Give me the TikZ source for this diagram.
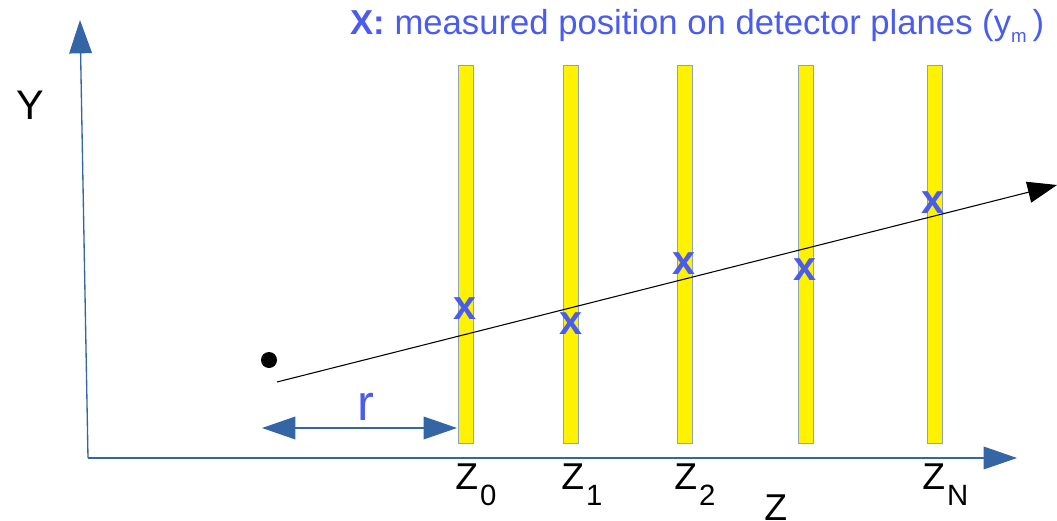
\documentclass[tikz,border=0pt]{standalone}
\usepackage{fontspec}
\setmainfont{Liberation Sans}
\usetikzlibrary{arrows.meta}
\definecolor{axisblue}{HTML}{3465A4}
\definecolor{markblue}{HTML}{4A5CF0}
\definecolor{planeedge}{HTML}{8DA3B8}
\begin{document}
\begin{tikzpicture}[x=0.75pt,y=-0.75pt,
  axis/.style={draw=axisblue, line width=1pt, -{Triangle[length=25pt,width=17pt]}},
  rarrow/.style={draw=axisblue, line width=1pt, {Triangle[length=25pt,width=17pt]}-{Triangle[length=25pt,width=17pt]}},
  track/.style={draw=black, line width=0.8pt, -{Triangle[length=22pt,width=16pt]}},
  plane/.style={draw=planeedge, fill=yellow, line width=1pt, inner sep=0pt, minimum width=11.25pt, minimum height=283.5pt, anchor=north west},
  xmark/.style={text=markblue, inner sep=0pt, font=\fontsize{31}{31}\selectfont\bfseries},
  zlab/.style={inner sep=0pt, anchor=base west, font=\fontsize{28}{28}\selectfont},
]
\useasboundingbox (0,0) rectangle (1057,521);
\newcommand{\zsub}[1]{\kern1.5pt\raisebox{-12pt}{\fontsize{22}{22}\selectfont #1}}
% title
\node[anchor=base west, inner sep=0pt, text=markblue, font=\fontsize{26}{26}\selectfont] (title) at (350,34)
  {\textbf{X:} measured position on detector planes (y\raisebox{-6pt}{\fontsize{14}{14}\selectfont m}\,)};
% axes
\coordinate (O) at (88,458);
\coordinate (ytip) at (80,20);
\coordinate (ztip) at (1017,458);
\draw[axis] (O) -- (ytip);
\draw[axis] (O) -- (ztip);
\node[anchor=base west, inner sep=0pt, font=\fontsize{31}{31}\selectfont] (ylab) at (16,119) {Y};
\node[zlab] (zaxis) at (764,520) {Z};
% planes
\node[plane] (p0) at (458,65) {};
\node[plane] (p1) at (563,65) {};
\node[plane] (p2) at (677,65) {};
\node[plane] (p3) at (798,65) {};
\node[plane] (pN) at (927,65) {};
% plane labels
\node[zlab] (z0) at (455,489) {Z\zsub{0}};
\node[zlab] (z1) at (561,489) {Z\zsub{1}};
\node[zlab] (z2) at (674,489) {Z\zsub{2}};
\node[zlab] (zN) at (922,489) {Z\zsub{N}};
% particle
\node[circle, fill=black, inner sep=0pt, minimum size=12pt] (dot) at (269,360) {};
\coordinate (tstart) at (277,382);
\coordinate (tend) at (1057,185);
\draw[track] (tstart) -- (tend);
% r
\coordinate (rl) at (262,428);
\coordinate (rr) at (457,428);
\draw[rarrow] (rl) -- (rr);
\node[anchor=base, inner sep=0pt, text=markblue, font=\fontsize{38}{38}\selectfont] (rlab) at (366,420) {r};
% measured marks
\node[xmark] (m0) at (465,309) {x};
\node[xmark] (m1) at (571,324) {x};
\node[xmark] (m2) at (684,264) {x};
\node[xmark] (m3) at (805,270) {x};
\node[xmark] (mN) at (933,203) {x};
\end{tikzpicture}
\end{document}
